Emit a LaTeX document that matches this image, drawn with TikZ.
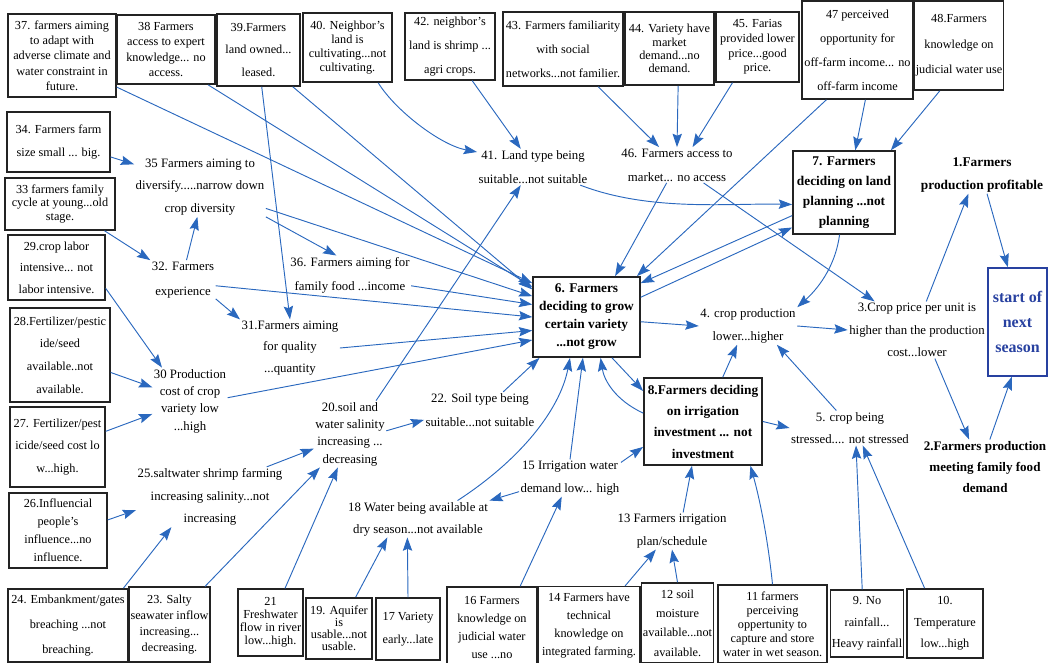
\documentclass[tikz,border=0pt]{standalone}
\usepackage{fontspec}
\setmainfont{Liberation Serif}
\usepackage{xcolor}
\usetikzlibrary{arrows.meta}
\definecolor{arrblue}{RGB}{42,104,190}
\definecolor{boxgray}{RGB}{35,35,35}
\definecolor{startblue}{RGB}{40,65,160}

\begin{document}
\begin{tikzpicture}[x=0.75pt,y=-0.75pt,
        box/.style={draw=boxgray,line width=1.1pt,align=center,inner sep=1pt},
        fnt/.style={font=\fontsize{9.2}{#1}\selectfont},
        lfnt/.style={font=\fontsize{9.6}{#1}\selectfont},
        kfnt/.style={font=\bfseries\fontsize{10}{#1}\selectfont},
        keybox/.style={box,line width=1.3pt},
        lbl/.style={align=center,inner sep=1pt},
        arr/.style={draw=arrblue,line width=0.7pt,-{Stealth[length=10pt,width=7pt,inset=1.5pt]}}]
        \useasboundingbox (0,0) rectangle (1049,663);

        % top row
        \node[box,fnt=11.5,minimum width=81pt,minimum height=62pt] (n37) at (62,55.5) {37. farmers aiming\\to adapt with\\adverse climate and\\water constraint in\\future.};
        \node[box,fnt=11.5,minimum width=73.5pt,minimum height=52pt] (n38) at (166,49.5) {38 Farmers\\access to expert\\knowledge... no\\access.};
        \node[box,fnt=17,minimum width=62pt,minimum height=54pt] (n39) at (258.5,50) {39.Farmers\\land owned...\\leased.};
        \node[box,fnt=10.5,minimum width=67pt,minimum height=52pt] (n40) at (347.5,47.5) {40. Neighbor's\\land is\\cultivating...not\\cultivating.};
        \node[box,fnt=18,minimum width=67.5pt,minimum height=50pt] (n42) at (450,46.5) {42. neighbor's\\land is shrimp ...\\agri crops.};
        \node[box,fnt=18,minimum width=90pt,minimum height=55.5pt] (n43) at (563,49) {43. Farmers familiarity\\with social\\networks...not familier.};
        \node[box,fnt=10,minimum width=67pt,minimum height=55pt] (n44) at (669.5,48.5) {44. Variety have\\market\\demand...no\\demand.};
        \node[box,fnt=11,minimum width=62pt,minimum height=52.5pt] (n45) at (757.5,47) {45. Farias\\provided lower\\price...good\\price.};
        \node[box,fnt=18,minimum width=83pt,minimum height=73.5pt] (n47) at (857.5,50) {47 perceived\\opportunity for\\off-farm income... no\\off-farm income};
        \node[box,fnt=19,minimum width=66pt,minimum height=67pt] (n48) at (959,45.5) {48.Farmers\\knowledge on\\judicial water use};

        % left column
        \node[box,fnt=17.5,minimum width=77pt,minimum height=45pt] (n34) at (58.5,142) {34. Farmers farm\\size small ... big.};
        \node[box,fnt=10,minimum width=82.5pt,minimum height=39pt] (n33) at (60,204) {33 farmers family\\cycle at young...old\\stage.};
        \node[box,fnt=16,minimum width=72.75pt,minimum height=48.75pt] (n29) at (56.5,267.5) {29.crop labor\\intensive... not\\labor intensive.};
        \node[box,fnt=17,minimum width=75pt,minimum height=70.5pt] (n28) at (60,355) {28.Fertilizer/pestic\\ide/seed\\available..not\\available.};
        \node[box,fnt=17,minimum width=71.25pt,minimum height=60pt] (n27) at (57.5,447) {27. Fertilizer/pest\\icide/seed cost lo\\w...high.};
        \node[box,fnt=13.5,minimum width=73.5pt,minimum height=56pt] (n26) at (58,530.5) {26.Influencial\\people's\\influence...no\\influence.};

        % bottom row
        \node[box,fnt=18.5,minimum width=90pt,minimum height=55pt] (n24) at (68,625.5) {24. Embankment/gates\\breaching ...not\\breaching.};
        \node[box,fnt=12,minimum width=61pt,minimum height=56pt] (n23) at (169.5,624.5) {23. Salty\\seawater inflow\\increasing...\\decreasing.};
        \node[box,fnt=9.8,minimum width=49pt,minimum height=50pt] (n21) at (270.5,622.5) {21\\Freshwater\\flow in river\\low...high.};
        \node[box,fnt=9,minimum width=49.5pt,minimum height=46pt] (n19) at (339,628.5) {19. Aquifer\\is\\usable...not\\usable.};
        \node[box,fnt=17,minimum width=48pt,minimum height=46.5pt] (n17) at (408,629) {17 Variety\\early...late};
        \node[box,fnt=13.5,minimum width=67.5pt,minimum height=61.5pt] (n16) at (492,628) {16 Farmers\\knowledge on\\judicial water\\use ...no};
        \node[box,fnt=13.5,minimum width=76.5pt,minimum height=59pt] (n14) at (589,626) {14 Farmers have\\technical\\knowledge on\\integrated farming.};
        \node[box,fnt=14.5,minimum width=54pt,minimum height=60pt] (n12) at (677.5,623) {12 soil\\moisture\\available...not\\available.};
        \node[box,fnt=10.5,minimum width=82pt,minimum height=58.5pt] (n11) at (772.5,624) {11 farmers\\perceiving\\oppertunity to\\capture and store\\water in wet season.};
        \node[box,fnt=16,minimum width=54pt,minimum height=50pt] (n9) at (867,623.5) {9. No\\rainfall...\\Heavy rainfall};
        \node[box,fnt=16,minimum width=57pt,minimum height=52pt] (n10) at (945,623.5) {10.\\Temperature\\low...high};

        % decision boxes
        \node[keybox,kfnt=13.5,minimum width=80pt,minimum height=60pt] (n6) at (586.5,317) {6. Farmers\\deciding to grow\\certain variety\\...not grow};
        \node[keybox,kfnt=15,minimum width=76.5pt,minimum height=62pt] (n7) at (844,192.5) {7. Farmers\\deciding on land\\planning ...not\\planning};
        \node[keybox,kfnt=16,minimum width=88.5pt,minimum height=65pt] (n8) at (703,421.5) {8.Farmers deciding\\on irrigation\\investment ... not\\investment};
        \node[box,draw=startblue,text=startblue,font=\bfseries\fontsize{12}{19}\selectfont,minimum width=44pt,minimum height=81pt] (nstart) at (1017.5,322) {start of\\next\\season};

        % free labels
        \node[lbl,lfnt=17] (n35) at (200,187) {35 Farmers aiming to\\diversify.....narrow down\\crop diversity};
        \node[lbl,lfnt=19] (n32) at (183,280) {32. Farmers\\experience};
        \node[lbl,lfnt=18] (n36) at (350,275) {36. Farmers aiming for\\family food ...income};
        \node[lbl,lfnt=16] (n31) at (290,348) {31.Farmers aiming\\for quality\\...quantity};
        \node[lbl,lfnt=13] (n30) at (190,401) {30 Production\\cost of crop\\variety low\\...high};
        \node[lbl,lfnt=13] (n20) at (350,434) {20.soil and\\water salinity\\increasing ...\\decreasing};
        \node[lbl,lfnt=18] (n22) at (480,410) {22. Soil type being\\suitable...not suitable};
        \node[lbl,lfnt=17] (n25) at (210,497) {25.saltwater shrimp farming\\increasing salinity...not\\increasing};
        \node[lbl,lfnt=16.5] (n18) at (418,519) {18 Water being available at\\dry season...not available};
        \node[lbl,lfnt=17] (n15) at (570,478) {15 Irrigation water\\demand low... high};
        \node[lbl,lfnt=17] (n13) at (672,531) {13 Farmers irrigation\\plan/schedule};
        \node[lbl,lfnt=18] (n41) at (533,167) {41. Land type being\\suitable...not suitable};
        \node[lbl,lfnt=18] (n46) at (677,165) {46. Farmers access to\\market... no access};
        \node[lbl,lfnt=17] (n4) at (748,326) {4. crop production\\lower...higher};
        \node[lbl,lfnt=17] (n3) at (917,330) {3.Crop price per unit is\\higher than the production\\cost...lower};
        \node[lbl,lfnt=17] (n5) at (850,428) {5. crop being\\stressed.... not stressed};
        \node[lbl,kfnt=17] (n1) at (982,175) {1.Farmers\\production profitable};
        \node[lbl,font=\bfseries\fontsize{9.8}{16}\selectfont] (n2) at (985,467) {2.Farmers production\\meeting family food\\demand};

        % links from the top row
        \draw[arr] (n37.330) -- (n6.148);
        \draw[arr] (n38.320) -- (n6.151);
        \draw[arr] (n39.275) -- (n31.north);
        \draw[arr] (n39.313) -- (n6.153);
        \draw[arr] (n40.311) .. controls (395,110) and (440,145) .. (n41.165);
        \draw[arr] (n42.303) -- (n41.124);
        \draw[arr] (n43.313) -- (n46.135);
        \draw[arr] (n44.283) -- (n46.north);
        \draw[arr] (n45.235) -- (n46.49);
        \draw[arr] (n47.238) -- (n6.39);
        \draw[arr] (n47.279) -- (n7.75);
        \draw[arr] (n48.247) -- (n7.42);

        % links on the left
        \draw[arr] (n34.344) -- (n35.161);
        \draw[arr] (n33.329) -- (n32.north west);
        \draw[arr] (n32.80) -- (n35.265);
        \draw[arr] (n32.330) -- (n31.north west);
        \draw[arr] (n35.south east) -- (n36.125);
        \draw[arr] (n29.337) -- (n30.130);
        \draw[arr] (n28.341) -- (n30.160);
        \draw[arr] (n27.18) -- (n30.199);
        \draw[arr] (n26.12) -- (n25.190);
        \draw[arr] (n24.34) -- (n25.218);
        \draw[arr] (n25.28) -- (n20.202);
        \draw[arr] (n23.47) -- (n20.228);
        \draw[arr] (n21.67) -- (n20.250);
        \draw[arr] (n20.5) -- (n22.190);
        \draw[arr] (n20.52) -- (n41.236);
        \draw[arr] (n19.62) -- (n18.211);
        \draw[arr] (n17.north) -- (n18.240);

        % into box 6
        \draw[arr] (n35.342) -- (n6.159);
        \draw[arr] (n36.350) -- (n6.167);
        \draw[arr] (n32.350) -- (n6.180);
        \draw[arr] (n31.east) -- (n6.194);
        \draw[arr] (n30.5) -- (n6.203);
        \draw[arr] (n22.38) -- (n6.221);
        \draw[arr] (n18.25) .. controls (520,460) and (560,410) .. (n6.248);
        \draw[arr] (n15.north) -- (n6.265);
        \draw[arr] (n46.240) -- (n6.55);
        \draw[arr] (n7.204) -- (n6.32);
        \draw[arr] (n6.20) -- (n7.214);
        \draw[arr] (n8.172) .. controls (615,400) and (604,380) .. (n6.289);
        \draw[arr] (n6.302) -- (n8.153);

        % middle and right
        \draw[arr] (n41.339) .. controls (650,212) and (730,203) .. (n7.193);
        \draw[arr] (n46.326) -- (n3.146);
        \draw[arr] (n7.264) .. controls (836,262) and (822,285) .. (n4.north east);
        \draw[arr] (n6.355) -- (n4.west);
        \draw[arr] (n4.east) -- (n3.west);
        \draw[arr] (n3.72) -- (n1.234);
        \draw[arr] (n1.285) -- (nstart.100);
        \draw[arr] (n3.302) -- (n2.120);
        \draw[arr] (n2.80) -- (nstart.264);
        \draw[arr] (n5.128) -- (n4.327);
        \draw[arr] (n8.66) -- (n4.240);
        \draw[arr] (n8.east) -- (n5.west);
        \draw[arr] (n15.17) -- (n8.203);
        \draw[arr] (n15.195) -- (n18.north east);
        \draw[arr] (n13.59) -- (n8.256);
        \draw[arr] (n11.north) .. controls (768,540) and (760,500) .. (n8.317);

        % links from the bottom row
        \draw[arr] (n16.56) -- (n15.246);
        \draw[arr] (n14.48) -- (n13.229);
        \draw[arr] (n12.north) -- (n13.south);
        \draw[arr] (n9.98) -- (n5.289);
        \draw[arr] (n10.120) -- (n5.306);
\end{tikzpicture}
\end{document}
